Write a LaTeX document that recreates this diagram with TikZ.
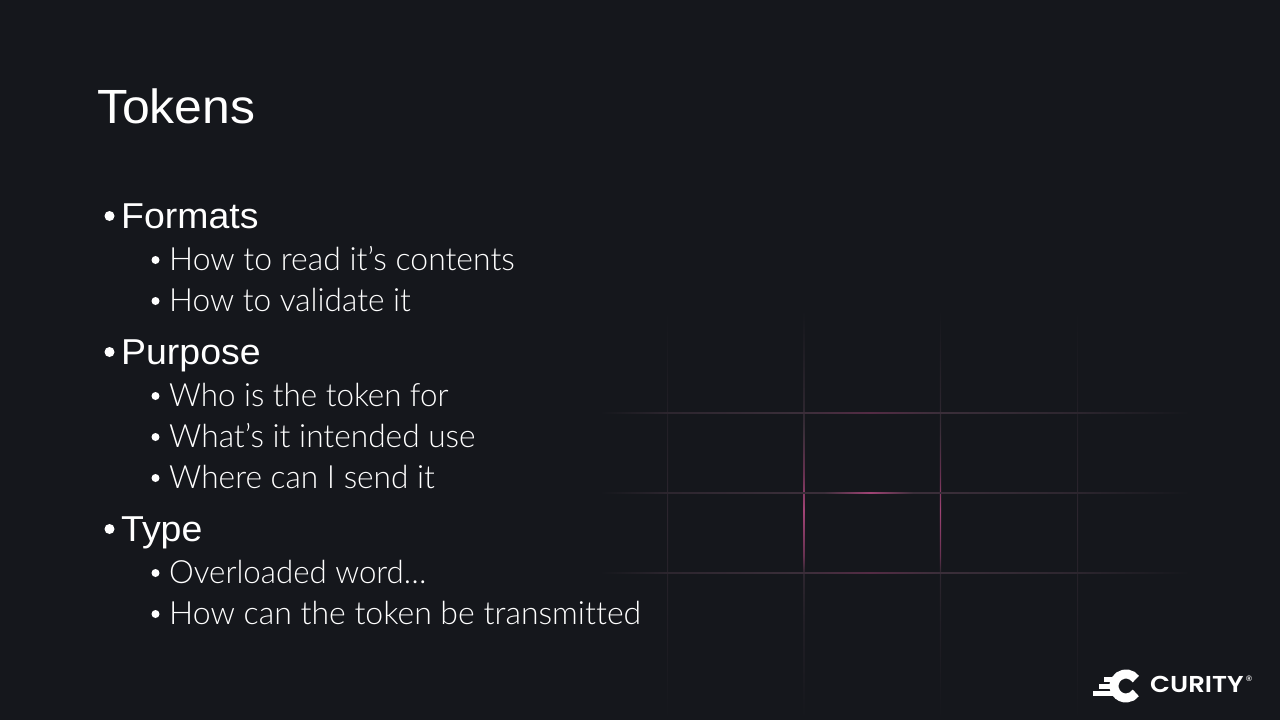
\documentclass[tikz,border=0pt]{standalone}
\usepackage{fontspec}
\setmainfont{Lato Light}[Ligatures=NoCommon]
\newfontfamily\headfont{Liberation Sans}[FakeStretch=1.04]
\newfontfamily\logofont{Poppins SemiBold}[FakeStretch=1.13]
\newfontfamily\markfont{Liberation Sans Bold}
\definecolor{bgc}{HTML}{15171C}
\definecolor{pinkc}{HTML}{C8508F}
\definecolor{greyc}{HTML}{8A6078}
\colorlet{ga}{greyc!10!bgc}
\colorlet{gb}{greyc!20!bgc}
\colorlet{gc}{greyc!32!bgc}
\colorlet{gd}{pinkc!35!bgc}
\colorlet{pa}{pinkc!45!bgc}
\colorlet{pb}{pinkc!78!bgc}
\pgfdeclarehorizontalshading{hedge}{100bp}{color(0bp)=(bgc);color(25bp)=(bgc);color(30.8bp)=(gb);color(41.9bp)=(gc);color(47.9bp)=(gd);color(53.8bp)=(gc);color(65.4bp)=(gb);color(75bp)=(bgc);color(100bp)=(bgc)}
\pgfdeclarehorizontalshading{hmid}{100bp}{color(0bp)=(bgc);color(25bp)=(bgc);color(30.8bp)=(gb);color(41.9bp)=(gc);color(44bp)=(gc);color(47.9bp)=(pb);color(51.5bp)=(gc);color(53.8bp)=(gc);color(65.4bp)=(gb);color(75bp)=(bgc);color(100bp)=(bgc)}
\pgfdeclareverticalshading{vout}{100bp}{color(0bp)=(bgc);color(25bp)=(bgc);color(50bp)=(gb);color(75bp)=(bgc);color(100bp)=(bgc)}
\pgfdeclareverticalshading{vin}{100bp}{color(0bp)=(bgc);color(25bp)=(bgc);color(37bp)=(ga);color(43bp)=(gb);color(45bp)=(pa);color(50.6bp)=(pb);color(55bp)=(pa);color(60bp)=(gc);color(63bp)=(gb);color(75bp)=(bgc);color(100bp)=(bgc)}
\tikzset{
  title/.style={anchor=base west,inner sep=0pt,text=white,font=\headfont\fontsize{48}{48}\selectfont},
  lvlone/.style={anchor=base west,inner sep=0pt,text=white,font=\headfont\fontsize{36}{36}\selectfont},
  lvltwo/.style={anchor=base west,inner sep=0pt,text=white,font=\addfontfeature{FakeStretch=#1}\fontsize{32}{32}\selectfont},
  lvltwo/.default=1,
  dotone/.style={circle,fill=white,inner sep=0pt,minimum size=10pt},
  dottwo/.style={circle,fill=white,inner sep=0pt,minimum size=8pt}
}
\begin{document}
\begin{tikzpicture}[x=1pt,y=-1pt]
\useasboundingbox (0,0) rectangle (1280,720);
\fill[bgc] (0,0) rectangle (1280,720);
% grid
\shade[shading=vout] (667,310) rectangle (668,720);
\shade[shading=vout] (1077,310) rectangle (1078,720);
\shade[shading=vin] (803.5,310) rectangle (804.9,720);
\shade[shading=vin] (939.8,310) rectangle (941.2,720);
\shade[shading=hedge] (600,412) rectangle (1190,413);
\shade[shading=hmid] (600,492) rectangle (1190,493.2);
\shade[shading=hedge] (600,572) rectangle (1190,573);
% text
\node[title] (t) at (97,123) {Tokens};
\node[dotone] (d1) at (109.5,216) {}; \node[lvlone] (a) at (121,228) {Formats};
\node[dottwo] (d2) at (155.5,260) {}; \node[lvltwo=0.997] (a1) at (169,270) {How to read it’s contents};
\node[dottwo] (d3) at (155.5,301) {}; \node[lvltwo=0.988] (a2) at (169,311) {How to validate it};
\node[dotone] (d4) at (109.5,352) {}; \node[lvlone] (b) at (121,364) {Purpose};
\node[dottwo] (d5) at (155.5,396) {}; \node[lvltwo=0.979] (b1) at (169,406) {Who is the token for};
\node[dottwo] (d6) at (155.5,437) {}; \node[lvltwo=0.99] (b2) at (169,447) {What’s it intended use};
\node[dottwo] (d7) at (155.5,478) {}; \node[lvltwo=0.989] (b3) at (169,488) {Where can I send it};
\node[dotone] (d8) at (109.5,529) {}; \node[lvlone] (c) at (121,541) {Type};
\node[dottwo] (d9) at (155.5,573) {}; \node[lvltwo=0.977] (c1) at (169,583) {Overloaded word…};
\node[dottwo] (d10) at (155.5,614) {}; \node[lvltwo] (c2) at (169,624) {How can the token be transmitted};
% logo
\draw[white,line width=9pt] (1135.8,679.1) arc[start angle=-35,end angle=-325,radius=12];
\fill[white] (1093,691) rectangle (1117,696);
\fill[white] (1099,684) rectangle (1117,688.5);
\fill[white] (1104,677) rectangle (1118,681.5);
\node[anchor=base west,inner sep=0pt,text=white,font=\logofont\fontsize{23}{23}\selectfont] (l) at (1150,692) {CURITY};
\node[anchor=base west,inner sep=0pt,text=white,font=\markfont\fontsize{8}{8}\selectfont] (r) at (1246,681) {®};
\end{tikzpicture}
\end{document}
